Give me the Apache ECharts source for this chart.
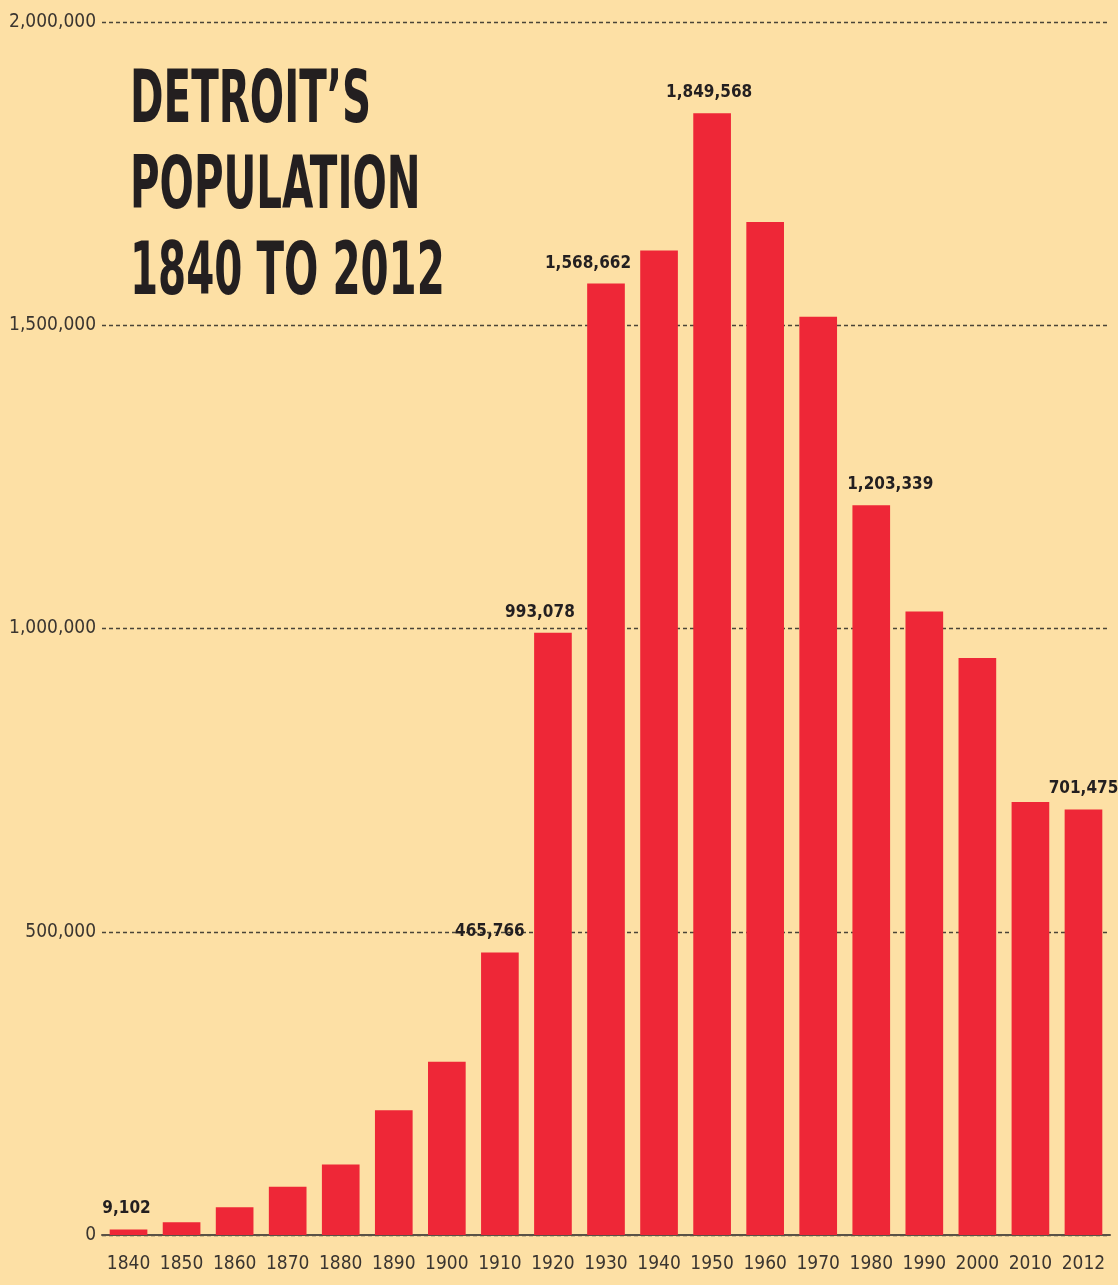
<!DOCTYPE html>
<html>
<head>
<meta charset="utf-8">
<title>Detroit's population 1840 to 2012</title>
<script src="https://cdn.jsdelivr.net/npm/echarts@6/dist/echarts.min.js"></script>
<style>
  html, body { margin: 0; padding: 0; background: #FDE0A5; }
  #chart { width: 1118px; height: 1285px; }
</style>
</head>
<body>
<div id="chart"></div>
<script>
// census years and population
const years = ['1840', '1850', '1860', '1870', '1880', '1890', '1900', '1910', '1920', '1930',
    '1940', '1950', '1960', '1970', '1980', '1990', '2000', '2010', '2012'];
const population = [9102, 21019, 45619, 79577, 116340, 205876, 285704, 465766, 993078, 1568662,
    1623452, 1849568, 1670144, 1514063, 1203339, 1027974, 951270, 713777, 701475];
// years that get a value printed above the bar
const labelledYears = ['1840', '1910', '1920', '1930', '1950', '1980', '2012'];
const yTicks = [0, 500000, 1000000, 1500000, 2000000];
const titleLines = ['DETROIT\u2019S', 'POPULATION', '1840 TO 2012'];

const condensed = "'DejaVu Sans Condensed', 'Liberation Sans Narrow', sans-serif";

// nudges so the printed numbers sit where the original put them
const labelShift = {'1840': -2, '1910': -10, '1920': -13, '1930': -18, '1950': -3, '1980': 19, '2012': 0};

const fmt = v => v.toLocaleString('en-US');

const barData = population.map((v, i) => {
    const y = years[i];
    return {
        value: v,
        label: {
            show: labelledYears.indexOf(y) >= 0,
            offset: [labelShift[y] || 0, 0]
        }
    };
});

const chart = echarts.init(document.getElementById('chart'));

const option = {
    backgroundColor: '#FDE0A5',
    animation: false,
    // the heading is a squeezed bold face, so draw it as a scaled graphic text
    graphic: [
        {
            type: 'text',
            left: 130,
            top: 60,
            scaleX: 0.615,
            originX: 0,
            originY: 0,
            style: {
                text: titleLines.join('\n'),
                fontFamily: condensed,
                fontWeight: 'bold',
                fontSize: 73,
                lineHeight: 86,
                fill: '#231F20'
            }
        }
    ],
    grid: {
        left: 102,
        right: 8,
        top: 22,
        bottom: 50
    },
    xAxis: {
        type: 'category',
        data: years,
        axisTick: {show: false},
        axisLine: {
            show: true,
            lineStyle: {color: '#5a5246', width: 2}
        },
        axisLabel: {
            interval: 0,
            fontFamily: condensed,
            fontSize: 19,
            color: '#3a3530',
            margin: 20
        }
    },
    yAxis: {
        type: 'value',
        min: 0,
        max: 2000000,
        interval: 500000,
        axisLine: {show: false},
        axisTick: {show: false},
        axisLabel: {
            fontFamily: condensed,
            fontSize: 19,
            color: '#3a3530',
            margin: 6,
            formatter: v => yTicks.indexOf(v) >= 0 ? fmt(v) : ''
        },
        splitLine: {
            show: true,
            lineStyle: {
                color: '#4a4438',
                width: 1.4,
                type: [4, 3]
            }
        }
    },
    series: [
        {
            type: 'bar',
            data: barData,
            barWidth: '71%',
            itemStyle: {color: '#EE2737'},
            label: {
                position: 'top',
                distance: 12,
                fontFamily: condensed,
                fontWeight: 'bold',
                fontSize: 17,
                color: '#231F20',
                formatter: p => fmt(p.value)
            }
        }
    ]
};

chart.setOption(option);
</script>
</body>
</html>
